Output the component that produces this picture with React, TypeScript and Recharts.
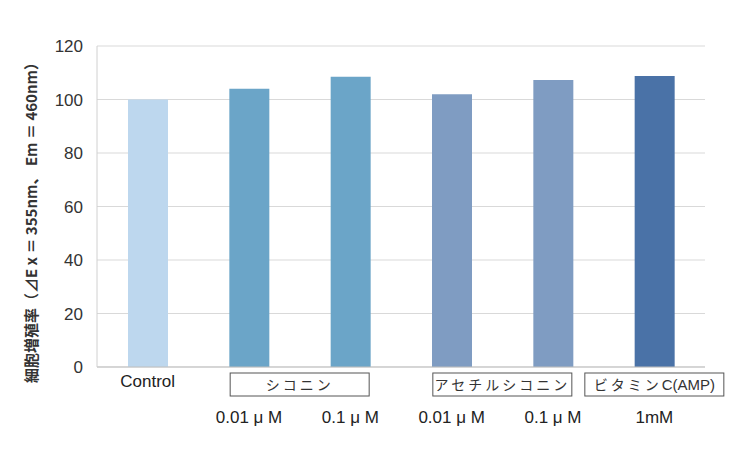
import { BarChart, Bar, XAxis, YAxis, CartesianGrid, Cell, Label } from 'recharts'

const categories = ['Control', 'シコニン 0.01', 'シコニン 0.1', 'アセチルシコニン 0.01', 'アセチルシコニン 0.1', 'ビタミンC 1mM']
const topLabels = ['Control', '', '', '', '', '']
const concLabels = ['', '0.01 μ M', '0.1 μ M', '0.01 μ M', '0.1 μ M', '1mM']
const values = [100, 104, 108.5, 102, 107.3, 108.8]
const barColors = ['#BDD7EE', '#6BA5C8', '#6BA5C8', '#7F9CC2', '#7F9CC2', '#4A72A7']
const yTicks = [0, 20, 40, 60, 80, 100, 120]

// group boxes: first and last category index covered
const groups = [
  { kana: 'シコニン', latin: '', from: 1, to: 2 },
  { kana: 'アセチルシコニン', latin: '', from: 3, to: 4 },
  { kana: 'ビタミン', latin: 'C(AMP)', from: 5, to: 5 },
]

const yLabel = '細胞増殖率（⊿E x ＝ 355nm、 Em ＝ 460nm）'

const data = categories.map((c, i) => ({
  name: c,
  value: values[i],
  top: topLabels[i],
  conc: concLabels[i],
}))

const FONT = '"Liberation Sans", Arial, "Noto Sans CJK JP", sans-serif'
const JP_FONT = '"Noto Sans CJK JP", "Liberation Sans", sans-serif'

const XTick = ({ x, y, payload }: any) => {
  const i = payload.index
  const half = payload.offset || 50.7
  const d = data[i]
  const g = groups.find(g => g.from === i)
  const boxW = 139
  let box = null
  if (g) {
    const cx = x + (g.to - g.from) * half
    box = (
      <g>
        <rect x={cx - boxW / 2} y={y - 2} width={boxW} height={23} fill="#fff" stroke="#555" strokeWidth={1} />
        <text x={cx} y={y + 15} textAnchor="middle" fontSize={14} fill="#333" fontFamily={JP_FONT}>
          <tspan letterSpacing={3}>{g.kana}</tspan>
          {g.latin && <tspan fontFamily={FONT} fontSize={15}>{g.latin}</tspan>}
        </text>
      </g>
    )
  }
  return (
    <g>
      {d.top && (
        <text x={x} y={y + 12} textAnchor="middle" fontSize={17} fill="#222" fontFamily={FONT}>
          {d.top}
        </text>
      )}
      {box}
      {d.conc && (
        <text x={x} y={y + 48} textAnchor="middle" fontSize={17} fill="#222" fontFamily={FONT}>
          {d.conc}
        </text>
      )}
    </g>
  )
}

export default function App() {
  return (
    <div style={{ position: 'absolute', left: 0, top: 0, width: 750, height: 460, background: '#fff' }}>
      <BarChart
        width={750}
        height={460}
        data={data}
        margin={{ top: 46, right: 45, left: 37, bottom: 13 }}
      >
        <CartesianGrid vertical={false} stroke="#d9d9d9" />
        <XAxis
          dataKey="name"
          height={80}
          stroke="#bfbfbf"
          tickLine={false}
          interval={0}
          tick={<XTick />}
        />
        <YAxis
          width={60}
          domain={[0, 120]}
          ticks={yTicks}
          stroke="#d0d0d0"
          tickLine={false}
          tickMargin={8}
          tick={{ fontSize: 17, fill: '#333', fontFamily: FONT }}
        >
          <Label
            content={() => (
              <text
                x={33}
                y={219}
                transform="rotate(-90 33 219)"
                textAnchor="middle"
                dominantBaseline="middle"
                fontSize={15}
                fontWeight="bold"
                fill="#333"
                fontFamily={JP_FONT}
              >
                {yLabel}
              </text>
            )}
          />
        </YAxis>
        <Bar dataKey="value" barSize={40} isAnimationActive={false}>
          {data.map((d, i) => (
            <Cell key={d.name} fill={barColors[i]} />
          ))}
        </Bar>
      </BarChart>
    </div>
  )
}
